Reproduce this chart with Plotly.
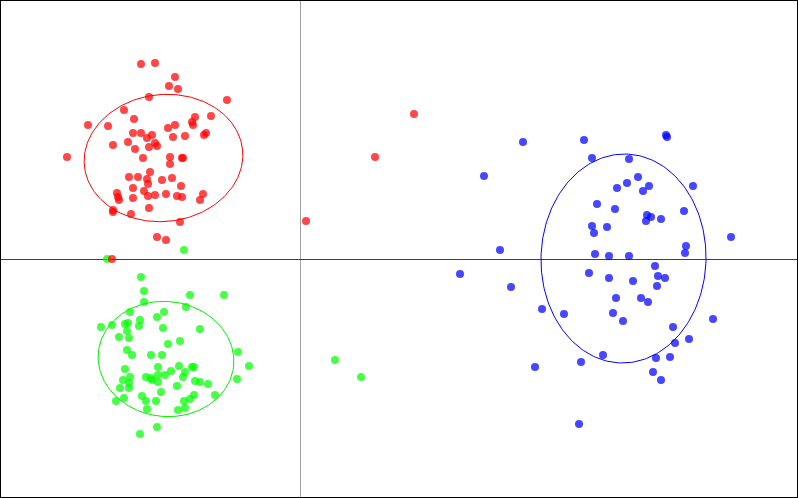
import numpy as np
import plotly.graph_objects as go

red_x = [-1.59, -1.45, -1.25, -1.31, -1.22, -1.51, -0.73, -1.76, -2.12, -1.92, -1.66, -2.33,
         -1.67, -1.59, -1.48, -1.53, -1.72, -1.87, -1.45, -1.43, -1.51, -1.65, -1.57, -1.32,
         -1.25, -1.27, -1.15, -1.08, -1.05, -1.07, -0.89, -0.96, -0.94, -1.30, -1.30, -1.18,
         -1.17, -1.50, -1.71, -1.62, -1.53, -1.52, -1.38, -1.28, -1.67, -1.56, -1.19, -1.83,
         -1.82, -1.81, -1.67, -1.52, -1.45, -1.34, -1.23, -1.18, -0.97, -1.00, -1.87, -1.87,
         -1.69, -1.51, -1.20, -1.43, -1.34, -1.88, 1.14, 0.75, 0.06]
red_y = [1.95, 1.96, 1.82, 1.73, 1.70, 1.62, 1.59, 1.49, 1.34, 1.33, 1.40, 1.02,
         1.26, 1.26, 1.24, 1.21, 1.17, 1.14, 1.16, 1.13, 1.12, 1.10, 1.01, 1.31,
         1.34, 1.22, 1.23, 1.37, 1.42, 1.34, 1.43, 1.24, 1.26, 1.02, 0.95, 1.01,
         1.01, 0.87, 0.82, 0.82, 0.80, 0.75, 0.79, 0.81, 0.71, 0.68, 0.73, 0.66,
         0.62, 0.59, 0.61, 0.63, 0.64, 0.65, 0.63, 0.62, 0.65, 0.59, 0.49, 0.47,
         0.45, 0.51, 0.37, 0.22, 0.19, 0.00, 1.45, 1.02, 0.38]

green_x = [-1.16, -1.93, -1.59, -1.56, -1.56, -1.10, -0.76, -1.14, -1.70, -1.36, -1.43, -1.60,
           -1.61, -1.99, -1.88, -1.75, -1.72, -1.73, -1.37, -1.00, -1.81, -1.71, -1.20, -1.32,
           -1.73, -1.68, -1.49, -1.38, -0.62, -0.51, -1.75, -1.42, -1.21, -1.08, -1.06, -1.29,
           -1.15, -1.35, -1.42, -1.54, -1.49, -1.48, -1.70, -1.77, -1.17, -1.05, -1.00, -0.92,
           -0.63, -1.42, -1.71, -1.80, -1.71, -1.23, -1.39, -1.58, -1.76, -1.54, -1.44, -1.06,
           -1.10, -1.16, -0.85, -1.84, -1.53, -1.15, -1.22, -1.43, -1.60, 0.35, 0.61]
green_y = [0.09, 0.00, -0.18, -0.32, -0.43, -0.36, -0.36, -0.48, -0.53, -0.53, -0.58, -0.61,
           -0.67, -0.68, -0.66, -0.65, -0.64, -0.72, -0.69, -0.70, -0.78, -0.79, -0.82, -0.85,
           -0.91, -0.96, -0.96, -0.96, -0.93, -1.07, -1.10, -1.08, -1.07, -1.08, -1.08, -1.12,
           -1.13, -1.16, -1.16, -1.18, -1.19, -1.21, -1.18, -1.21, -1.18, -1.22, -1.23, -1.25,
           -1.20, -1.23, -1.24, -1.29, -1.29, -1.27, -1.33, -1.37, -1.39, -1.42, -1.42, -1.36,
           -1.40, -1.42, -1.36, -1.42, -1.50, -1.49, -1.51, -1.68, -1.75, -1.01, -1.18]

blue_x = [2.23, 2.84, 3.66, 3.67, 1.84, 2.92, 3.29, 3.38, 3.27, 3.17, 3.49, 3.43,
          3.93, 2.97, 3.15, 3.47, 3.51, 3.46, 3.61, 3.84, 2.92, 2.94, 3.07, 4.31,
          2.00, 3.86, 3.85, 2.95, 3.09, 3.29, 1.60, 2.89, 3.55, 3.58, 3.65, 3.09,
          3.33, 3.57, 2.11, 3.16, 3.41, 3.48, 2.42, 2.64, 3.13, 3.23, 4.13, 3.73,
          3.89, 3.75, 3.03, 3.56, 3.70, 2.81, 2.35, 3.53, 3.61, 2.79]
blue_y = [1.17, 1.19, 1.24, 1.22, 0.83, 1.01, 1.00, 0.82, 0.76, 0.71, 0.73, 0.68,
          0.73, 0.55, 0.50, 0.44, 0.42, 0.38, 0.40, 0.48, 0.33, 0.26, 0.32, 0.22,
          0.09, 0.13, 0.06, 0.05, 0.03, 0.03, -0.15, -0.14, -0.07, -0.17, -0.19, -0.19,
          -0.22, -0.27, -0.28, -0.39, -0.39, -0.43, -0.50, -0.55, -0.54, -0.62, -0.60, -0.68,
          -0.80, -0.84, -0.96, -0.99, -0.98, -1.03, -1.08, -1.13, -1.21, -1.65]

# ellipse centres, semi-axes (data units) and tilt (degrees)
ell_cx = [-1.365, -1.34, 3.235]
ell_cy = [1.01, -1.00, 0.005]
ell_rx = [0.795, 0.68, 0.825]
ell_ry = [0.635, 0.575, 1.045]
ell_tilt = [6.0, -6.0, -1.5]
ell_colors = ["#ff0000", "#00ee00", "#0000ff"]

x_range = [-3.0, 4.98]
y_range = [-2.39, 2.59]

fig = go.Figure()

t = np.linspace(0, 2 * np.pi, 241)
for cx, cy, rx, ry, tilt, col in zip(ell_cx, ell_cy, ell_rx, ell_ry, ell_tilt, ell_colors):
    a = np.deg2rad(tilt)
    ex = cx + rx * np.cos(t) * np.cos(a) - ry * np.sin(t) * np.sin(a)
    ey = cy + rx * np.cos(t) * np.sin(a) + ry * np.sin(t) * np.cos(a)
    fig.add_trace(go.Scatter(x=ex, y=ey, mode="lines", line=dict(color=col, width=1),
                             showlegend=False, hoverinfo="skip"))

for xs, ys, col in [(green_x, green_y, "rgb(0,255,0)"),
                    (blue_x, blue_y, "rgb(0,0,255)"),
                    (red_x, red_y, "rgb(255,0,0)")]:
    fig.add_trace(go.Scatter(x=xs, y=ys, mode="markers",
                             marker=dict(size=8, color=col, opacity=0.72, line=dict(width=0)),
                             showlegend=False, hoverinfo="skip"))

fig.add_shape(type="rect", xref="paper", yref="paper", x0=0, x1=1, y0=0, y1=1,
              line=dict(color="black", width=2))

fig.update_layout(
    width=798, height=498,
    margin=dict(l=0, r=0, t=0, b=0),
    paper_bgcolor="white", plot_bgcolor="white",
    xaxis=dict(range=x_range, showgrid=False, showticklabels=False, ticks="",
               zeroline=True, zerolinecolor="#a0a0a0", zerolinewidth=1, showline=False),
    yaxis=dict(range=y_range, showgrid=False, showticklabels=False, ticks="",
               zeroline=True, zerolinecolor="#404040", zerolinewidth=1, showline=False),
)

fig.write_html("out.html", config={"displayModeBar": False},
               post_script="document.body.style.margin='0';document.body.style.overflow='hidden';")
